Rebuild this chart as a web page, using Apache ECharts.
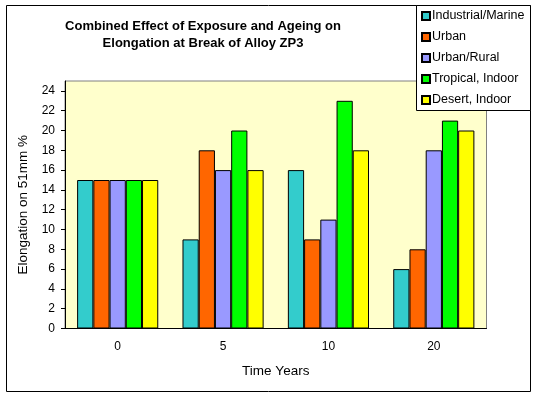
<!DOCTYPE html>
<html>
<head>
<meta charset="utf-8">
<script src="https://cdn.jsdelivr.net/npm/echarts@6/dist/echarts.min.js"></script>
<style>
  html, body { margin: 0; padding: 0; background: #fff; }
  #chart { width: 537px; height: 397px; }
</style>
</head>
<body>
<div id="chart"></div>
<script>
// 数据
const years = ['0', '5', '10', '20']
const industrialMarine = [15, 9, 16, 6]
const urban = [15, 18, 9, 8]
const urbanRural = [15, 16, 11, 18]
const tropicalIndoor = [15, 20, 23, 21]
const desertIndoor = [15, 16, 18, 20]
const yTicks = [0, 2, 4, 6, 8, 10, 12, 14, 16, 18, 20, 22, 24]

const FONT = '"Liberation Sans", Arial, sans-serif'

const seriesDefs = [
  { name: 'Industrial/Marine', color: '#33CCCC', data: industrialMarine },
  { name: 'Urban', color: '#FF6600', data: urban },
  { name: 'Urban/Rural', color: '#9999FF', data: urbanRural },
  { name: 'Tropical, Indoor', color: '#00FF00', data: tropicalIndoor },
  { name: 'Desert, Indoor', color: '#FFFF00', data: desertIndoor },
]

const chart = echarts.init(document.getElementById('chart'), null, { renderer: 'canvas' })

chart.setOption({
  backgroundColor: '#ffffff',
  animation: false,
  textStyle: { fontFamily: FONT, color: '#000' },
  title: {
    text: 'Combined Effect of Exposure and Ageing on\nElongation at Break of Alloy ZP3',
    left: 203,
    top: 18,
    padding: 0,
    textAlign: 'center',
    textStyle: { fontFamily: FONT, fontSize: 13, fontWeight: 'bold', color: '#000', lineHeight: 17 },
  },
  graphic: [
    // 外框
    { type: 'rect', shape: { x: 6.5, y: 5.5, width: 524, height: 386 }, style: { fill: 'none', stroke: '#000', lineWidth: 1 }, z: 0, silent: true },
    // 图例框
    { type: 'rect', shape: { x: 416.5, y: 5.5, width: 114, height: 105 }, style: { fill: '#fff', stroke: '#000', lineWidth: 1 }, z: 10, silent: true },
  ],
  legend: {
    orient: 'vertical',
    left: 421,
    top: 9,
    padding: 0,
    itemGap: 7,
    itemWidth: 8,
    itemHeight: 8,
    icon: 'rect',
    z: 20,
    textStyle: { fontFamily: FONT, fontSize: 12.5, color: '#000', lineHeight: 14, padding: [0, 0, 0, -3] },
    data: seriesDefs.map(s => s.name),
  },
  grid: {
    left: 65, right: 50.5, top: 81, bottom: 68.5,
    show: true,
    backgroundColor: '#FFFFCC',
    borderColor: '#808080',
    borderWidth: 1,
  },
  xAxis: {
    type: 'category',
    data: years,
    name: 'Time Years',
    nameLocation: 'middle',
    nameGap: 36,
    nameTextStyle: { fontFamily: FONT, fontSize: 13.5, color: '#000' },
    axisLine: { lineStyle: { color: '#000', width: 1 } },
    axisTick: { length: 5, lineStyle: { color: '#000' } },
    axisLabel: { fontFamily: FONT, fontSize: 12, color: '#000', margin: 12 },
  },
  yAxis: {
    type: 'value',
    min: 0,
    max: 25,
    interval: 2,
    name: 'Elongation on 51mm %',
    nameLocation: 'middle',
    nameGap: 29,
    nameTextStyle: { fontFamily: FONT, fontSize: 13.5, color: '#000' },
    axisLine: { show: true, lineStyle: { color: '#000', width: 1 } },
    axisTick: { show: true, length: 4, lineStyle: { color: '#000' }, customValues: yTicks },
    axisLabel: { fontFamily: FONT, fontSize: 12, color: '#000', margin: 10, customValues: yTicks },
    splitLine: { show: false },
  },
  series: seriesDefs.map(s => ({
    name: s.name,
    type: 'bar',
    data: s.data,
    barGap: 0,
    barCategoryGap: '23%',
    itemStyle: { color: s.color, borderColor: '#000', borderWidth: 1 },
  })),
})
</script>
</body>
</html>
